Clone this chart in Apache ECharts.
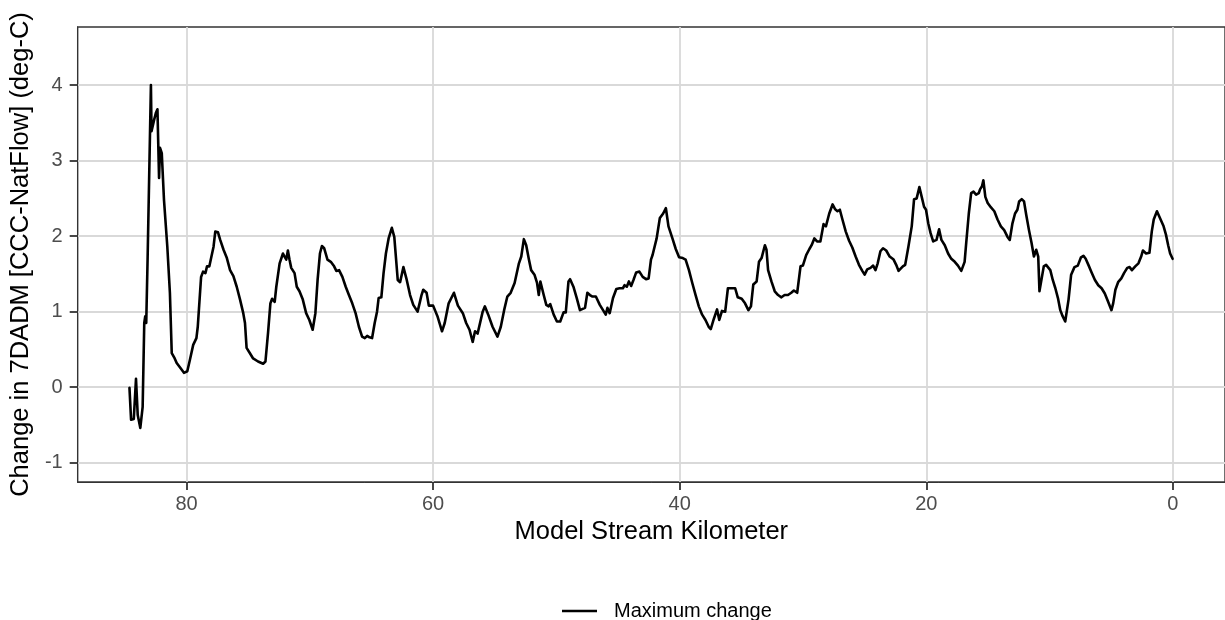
<!DOCTYPE html>
<html>
<head>
<meta charset="utf-8">
<script src="https://cdn.jsdelivr.net/npm/echarts@6/dist/echarts.min.js"></script>
<style>
html,body{margin:0;padding:0;background:#fff;}
#chart{width:1225px;height:620px;}
</style>
</head>
<body>
<div id="chart"></div>
<script>
const seriesName = "Maximum change";
const xTicks = [0, 20, 40, 60, 80];
const yTicks = [-1, 0, 1, 2, 3, 4];
const km = [
84.63,84.5,84.28,84.1,83.96,83.75,83.56,83.43,83.35,83.27,83.16,82.89,82.84,82.68,82.63,82.49,82.36,82.23,82.15,82.01,
81.83,81.56,81.35,81.2,80.96,80.8,80.48,80.21,79.94,79.73,79.46,79.2,79.09,78.98,78.82,78.66,78.47,78.34,78.15,78.02,
77.81,77.67,77.45,77.27,77.0,76.73,76.47,76.2,75.93,75.66,75.4,75.26,75.13,74.86,74.6,74.2,73.79,73.6,73.39,73.2,
73.06,72.85,72.72,72.45,72.18,72.05,71.91,71.78,71.65,71.51,71.24,71.06,70.84,70.57,70.3,70.04,69.77,69.55,69.37,69.18,
69.02,68.84,68.57,68.3,68.03,67.85,67.63,67.36,67.09,66.83,66.56,66.29,66.02,65.76,65.54,65.35,65.16,64.95,64.74,64.55,
64.42,64.2,64.02,63.83,63.61,63.35,63.15,62.87,62.68,62.41,62.14,61.87,61.61,61.26,61.07,60.94,60.8,60.53,60.35,60.0,
59.65,59.28,59.06,58.74,58.31,57.99,57.59,57.32,57.05,56.79,56.6,56.39,55.98,55.8,55.53,55.18,54.78,54.51,54.24,53.98,
53.71,53.39,53.04,52.85,52.64,52.45,52.23,52.05,51.78,51.57,51.43,51.3,51.15,51.03,50.82,50.63,50.5,50.22,49.96,49.69,
49.42,49.24,49.02,48.89,48.62,48.35,48.09,47.95,47.68,47.49,47.28,47.07,46.8,46.48,46.22,46.0,45.86,45.68,45.41,45.14,
44.88,44.61,44.47,44.29,44.12,43.94,43.75,43.53,43.27,43.0,42.73,42.52,42.33,42.2,42.07,41.87,41.61,41.34,41.12,40.91,
40.59,40.32,40.05,39.75,39.52,39.25,38.98,38.71,38.45,38.18,37.91,37.65,37.48,37.24,36.97,36.79,36.57,36.31,36.09,35.77,
35.5,35.29,34.97,34.7,34.43,34.22,34.03,33.76,33.57,33.36,33.09,32.96,32.83,32.56,32.29,32.02,31.75,31.49,31.22,30.95,
30.74,30.47,30.2,30.01,29.74,29.48,29.3,29.08,28.86,28.59,28.33,28.14,27.87,27.6,27.41,27.2,27.01,26.8,26.53,26.26,
26.0,25.73,25.46,25.19,25.0,24.79,24.52,24.31,24.12,23.94,23.72,23.51,23.25,22.97,22.65,22.44,22.25,22.11,21.9,21.71,
21.45,21.18,20.99,20.78,20.56,20.37,20.18,20.02,19.84,19.65,19.44,19.17,18.96,18.77,18.5,18.23,17.97,17.69,17.43,17.16,
16.89,16.76,16.55,16.36,16.17,15.96,15.74,15.64,15.48,15.37,15.21,15.02,14.75,14.48,14.22,13.95,13.68,13.41,13.23,13.01,
12.8,12.61,12.47,12.26,12.07,11.89,11.67,11.46,11.27,11.08,10.92,10.82,10.66,10.47,10.28,10.12,9.94,9.74,9.53,9.32,
9.13,8.94,8.73,8.59,8.46,8.25,7.98,7.71,7.45,7.25,7.07,6.85,6.59,6.32,6.05,5.78,5.52,5.25,4.98,4.84,
4.66,4.44,4.18,3.96,3.7,3.51,3.32,3.05,2.79,2.57,2.43,2.17,1.9,1.71,1.55,1.29,1.02,0.75,0.56,0.38,
0.22,0.02
];
const change = [
-0.01,-0.43,-0.42,0.11,-0.37,-0.54,-0.26,0.85,0.94,0.85,1.69,4.00,3.39,3.39,3.54,3.63,3.68,2.77,3.17,3.10,
2.48,1.86,1.25,0.45,0.38,0.32,0.25,0.19,0.21,0.36,0.56,0.65,0.80,0.80,1.46,1.53,1.51,1.60,1.60,1.70,
1.86,2.06,2.05,1.95,1.82,1.71,1.55,1.47,1.33,1.16,0.98,0.85,0.52,0.45,0.38,0.34,0.31,0.34,0.72,1.11,
1.17,1.13,1.33,1.64,1.77,1.73,1.69,1.81,1.69,1.58,1.51,1.33,1.27,1.16,0.98,0.89,0.76,0.98,1.42,1.77,
1.87,1.84,1.69,1.66,1.60,1.54,1.55,1.46,1.33,1.22,1.11,0.98,0.80,0.67,0.65,0.68,0.66,0.65,0.85,1.00,
1.18,1.19,1.51,1.77,1.97,2.11,1.99,1.42,1.39,1.59,1.42,1.22,1.09,1.00,1.13,1.22,1.29,1.25,1.08,1.08,
0.94,0.74,0.85,1.11,1.25,1.08,0.98,0.85,0.76,0.60,0.74,0.71,1.00,1.07,0.96,0.80,0.67,0.80,1.02,1.20,
1.25,1.38,1.64,1.73,1.96,1.88,1.69,1.55,1.49,1.38,1.22,1.40,1.40,1.22,1.09,1.07,1.10,0.96,0.87,0.87,
0.99,0.99,1.40,1.43,1.33,1.18,1.02,1.00,1.05,1.25,1.22,1.20,1.20,1.09,1.02,0.96,1.05,0.98,1.18,1.30,
1.31,1.31,1.35,1.33,1.40,1.34,1.42,1.52,1.53,1.46,1.43,1.44,1.69,1.75,1.74,1.97,2.24,2.30,2.37,2.13,
1.97,1.83,1.72,1.71,1.69,1.55,1.38,1.22,1.07,0.96,0.89,0.80,0.77,0.90,1.03,0.89,1.01,1.00,1.31,1.31,
1.31,1.19,1.17,1.11,1.02,1.07,1.36,1.40,1.66,1.71,1.88,1.82,1.55,1.40,1.27,1.22,1.19,1.22,1.22,1.25,
1.28,1.25,1.60,1.61,1.75,1.83,1.88,1.97,1.93,1.93,2.16,2.13,2.30,2.42,2.36,2.33,2.35,2.22,2.06,1.94,
1.85,1.73,1.62,1.54,1.49,1.56,1.58,1.61,1.55,1.64,1.80,1.84,1.81,1.73,1.69,1.62,1.54,1.52,1.60,1.62,
1.86,2.13,2.49,2.50,2.65,2.52,2.39,2.35,2.17,2.04,1.93,1.95,2.09,1.95,1.88,1.77,1.70,1.66,1.61,1.54,
1.66,1.91,2.30,2.57,2.59,2.55,2.57,2.62,2.66,2.74,2.52,2.44,2.38,2.33,2.22,2.13,2.08,1.99,1.95,2.17,
2.30,2.35,2.46,2.49,2.46,2.28,2.08,1.91,1.73,1.82,1.73,1.27,1.29,1.60,1.62,1.63,1.55,1.42,1.31,1.18,
1.02,0.94,0.87,0.89,1.16,1.49,1.59,1.61,1.72,1.74,1.70,1.62,1.52,1.42,1.35,1.31,1.24,1.13,1.02,1.11,
1.29,1.39,1.44,1.51,1.58,1.59,1.55,1.60,1.64,1.73,1.81,1.77,1.78,2.06,2.22,2.33,2.23,2.13,2.02,1.88,
1.77,1.70
];

const chart = echarts.init(document.getElementById('chart'));
const data = km.map((k, i) => [k, change[i]]);
const gridColor = '#D9D9D9';
const fontFam = '"Liberation Sans", Arial, sans-serif';
const frame = '#333333';

chart.setOption({
  animation: false,
  backgroundColor: '#ffffff',
  grid: {
    left: 77, top: 27, right: -10, bottom: 138,
    show: true, borderColor: frame, borderWidth: 1.4
  },
  legend: {
    show: true,
    data: [seriesName],
    left: 557, top: 596,
    itemWidth: 35, itemHeight: 14,
    icon: 'path://M0,6 L35,6 L35,8.5 L0,8.5 Z',
    textStyle: {fontFamily: fontFam, fontSize: 20, color: '#000000', padding: [0, 0, 0, 12]}
  },
  xAxis: {
    type: 'value', inverse: true, min: -4.23, max: 88.83,
    name: 'Model Stream Kilometer', nameLocation: 'middle', nameGap: 37,
    nameTextStyle: {fontFamily: fontFam, fontSize: 25.5, color: '#000000'},
    axisLine: {show: true, onZero: false, lineStyle: {color: frame}},
    axisTick: {show: true, customValues: xTicks, length: 8, lineStyle: {color: frame, width: 1.8}},
    axisLabel: {show: true, customValues: xTicks, margin: 12, fontFamily: fontFam, fontSize: 20, color: '#4D4D4D'},
    splitLine: {show: true, lineStyle: {color: gridColor, width: 1.8}}
  },
  yAxis: {
    type: 'value', min: -1.256, max: 4.77,
    name: 'Change in 7DADM [CCC-NatFlow] (deg-C)', nameLocation: 'middle', nameGap: 40,
    nameTextStyle: {fontFamily: fontFam, fontSize: 25.5, color: '#000000'},
    axisLine: {show: true, onZero: false, lineStyle: {color: frame}},
    axisTick: {show: true, customValues: yTicks, length: 8, lineStyle: {color: frame, width: 1.8}},
    axisLabel: {show: true, customValues: yTicks, margin: 15, fontFamily: fontFam, fontSize: 20, color: '#4D4D4D'},
    splitLine: {show: true, lineStyle: {color: gridColor, width: 1.8}}
  },
  series: [{
    name: seriesName,
    type: 'line',
    data: data,
    symbol: 'none',
    showSymbol: false,
    lineStyle: {color: '#000000', width: 2.6, join: 'round', cap: 'round'},
    itemStyle: {color: '#000000'}
  }]
});
</script>
</body>
</html>
